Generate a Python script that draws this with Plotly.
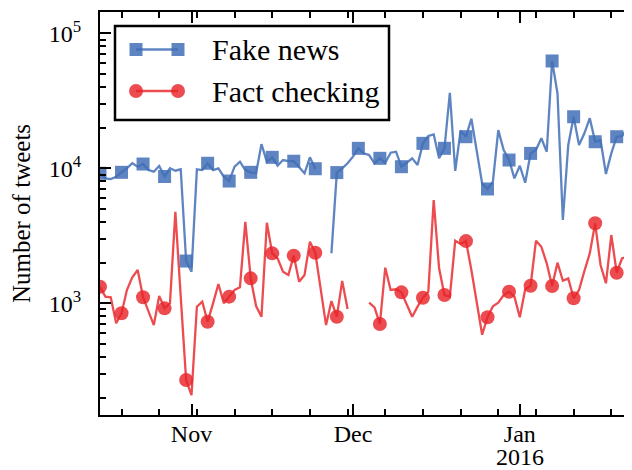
import numpy as np
import pandas as pd
import plotly.graph_objects as go

# ---------------- data (daily counts) ----------------
start_date = "2015-10-15"
n_days = 101

fake_news = [
    9190, 8430, 8330, 8670, 9340, 10000, 10900, 10280, 10760, 9700,
    9440, 10400, 8700, 10000, 9600, 9830, 2057, 1715, 9830, 9700,
    10900, 9700, 10000, 8670, 8050, 10280, 11200, 9700, 9340, 9190,
    15100, 11200, 12060, 10450, 11520, 11290, 11290, 10280, 9190, 12060,
    9930, None, None, 2350, 9300, 10000, 10900, 12200, 14060, 12900,
    12550, 10900, 11860, 11000, 13050, 13270, 10280, 11000, 11860, 10580,
    15310, 17350, 17850, 11860, 14060, 36300, 9560, 18990, 17150, 23300,
    13670, 7740, 7030, 7960, 19200, 13670, 11520, 8430, 10450, 7820,
    12900, 13670, 16700, 13270, 62400, 35900, 4140, 14880, 24100, 14880,
    18160, 23500, 15740, 16200, 9070, 12900, 17150, 17350, 19980, 16200,
    13670,
]

fact_checking = [
    1327, 1120, 1108, 711, 843, 1255, 1558, 1766, 1108, 867,
    690, 1133, 918, 1000, 4760, 1120, 270, 209, 944, 1028,
    731, 1000, 1390, 1000, 1120, 1255, 1314, 4020, 1531, 955,
    796, 3950, 2345, 2154, 1714, 1620, 2254, 1446, 1620, 2860,
    2370, 1277, 690, 1040, 796, 1463, 907, None, None, None,
    1010, 934, 703, 1836, 1255, 1270, 1206, 988, 796, 944,
    1100, 1219, 5820, 1817, 1152, 1120, 2910, 2750, 2890, 1766,
    1028, 585, 788, 950, 1010, 1152, 1219, 1120, 788, 1270,
    1350, 2910, 2625, 1979, 1343, 2000, 1470, 1531, 1089, 1255,
    1735, 2345, 3915, 1922, 1407, 3205, 1686, 2154, 2193, 1766,
    1490,
]

series_names = ["Fake news", "Fact checking"]
month_ticks = ["2015-11-01", "2015-12-01", "2016-01-01"]
month_labels = ["Nov", "Dec", "Jan"]
year_label = "2016"
y_ticks = [1e3, 1e4, 1e5]
y_labels = ["10<sup>3</sup>", "10<sup>4</sup>", "10<sup>5</sup>"]
marker_every = 4

# ---------------- styling ----------------
FONT = "Liberation Serif, Times New Roman, DejaVu Serif, serif"
BLUE = "rgba(66,111,182,0.85)"
RED = "rgba(232,36,42,0.82)"
LW = 2.3

# page body has an 8px margin: the figure starts at (8, 8) in the window
W, H = 632, 462
L, R, T, B = 92, 0, 4, 55
PLOT_H = H - T - B

dates = pd.date_range(start_date, periods=n_days, freq="D")
x_end = pd.Timestamp(start_date) + pd.Timedelta(days=100.33)

fig = go.Figure()

styles = [
    (fake_news, BLUE, "square", 13),
    (fact_checking, RED, "circle", 14),
]
for name, (vals, col, sym, ms) in zip(series_names, styles):
    fig.add_trace(go.Scatter(
        x=dates, y=vals, mode="lines", name=name,
        line=dict(color=col, width=LW), connectgaps=False,
        showlegend=False, hoverinfo="skip",
    ))
for name, (vals, col, sym, ms) in zip(series_names, styles):
    fig.add_trace(go.Scatter(
        x=dates[::marker_every], y=vals[::marker_every], mode="markers",
        name=name,
        marker=dict(symbol=sym, size=ms, color=col, line=dict(width=0)),
        showlegend=False, hoverinfo="skip",
    ))

# ---- legend drawn in pixel space (figure pixels) on a hidden overlay axis ----
OX, OY = 8, 8  # window offset
leg_x = [136 - OX, 178 - OX]
leg_rows = [(49.5 - OY, series_names[0], BLUE, "square", 13),
            (91 - OY, series_names[1], RED, "circle", 14)]
for yy, name, col, sym, ms in leg_rows:
    fig.add_trace(go.Scatter(
        x=leg_x, y=[yy, yy], mode="lines+markers", xaxis="x2", yaxis="y3",
        line=dict(color=col, width=LW),
        marker=dict(symbol=sym, size=ms, color=col, line=dict(width=0)),
        showlegend=False, hoverinfo="skip",
    ))
    fig.add_annotation(x=210 - OX, y=yy, xref="x2", yref="y3", text=name,
                       showarrow=False, xanchor="left", yanchor="middle",
                       font=dict(family=FONT, size=30, color="black"))
fig.add_shape(type="rect", xref="x2", yref="y3",
              x0=115 - OX, x1=389 - OX, y0=26 - OY, y1=120 - OY,
              line=dict(color="black", width=2.5), fillcolor="white", layer="below")

# second line of the January label
fig.add_annotation(x=month_ticks[2], y=-(457 - OY - (H - B)) / PLOT_H,
                   xref="x", yref="paper", text=year_label, showarrow=False,
                   xanchor="center", yanchor="middle",
                   font=dict(family=FONT, size=24, color="black"))

ymin_log, ymax_log = np.log10(148.8), 5.158
minor_y = [k * 10 ** e for e in (2, 3, 4) for k in range(2, 10)]
minor_x = pd.date_range("2015-10-19", "2016-01-25", freq="7D")

fig.update_layout(
    width=W, height=H,
    margin=dict(l=L, r=R, t=T, b=B, pad=0, autoexpand=False),
    paper_bgcolor="white", plot_bgcolor="white",
    showlegend=False,
    font=dict(family=FONT, size=24, color="black"),
    xaxis=dict(
        type="date", range=[pd.Timestamp(start_date), x_end], automargin=False,
        showline=True, linecolor="black", linewidth=2, mirror="ticks",
        showgrid=False, zeroline=False,
        tickmode="array", tickvals=month_ticks, ticktext=month_labels,
        ticks="inside", ticklen=11, tickwidth=1.5, tickcolor="black",
        ticklabelstandoff=-4,
        tickfont=dict(family=FONT, size=24, color="black"),
        minor=dict(tickmode="array", tickvals=list(minor_x), ticks="inside",
                   ticklen=6, tickwidth=1.5, tickcolor="black", showgrid=False),
    ),
    yaxis=dict(
        type="log", range=[ymin_log, ymax_log], automargin=False,
        showline=True, linecolor="black", linewidth=2, mirror="ticks",
        showgrid=False, zeroline=False,
        tickmode="array", tickvals=y_ticks, ticktext=y_labels,
        ticks="inside", ticklen=11, tickwidth=1.5, tickcolor="black",
        ticklabelstandoff=12,
        tickfont=dict(family=FONT, size=24, color="black"),
        minor=dict(tickmode="array", tickvals=minor_y, ticks="inside",
                   ticklen=6, tickwidth=1.5, tickcolor="black", showgrid=False),
        title=dict(text="Number of tweets", standoff=16,
                   font=dict(family=FONT, size=25, color="black")),
    ),
    xaxis2=dict(range=[L, W - R], overlaying="x", visible=False, anchor="y3"),
    yaxis3=dict(range=[H - B, T], overlaying="y", visible=False, anchor="x2"),
)

fig.write_html("out.html")
